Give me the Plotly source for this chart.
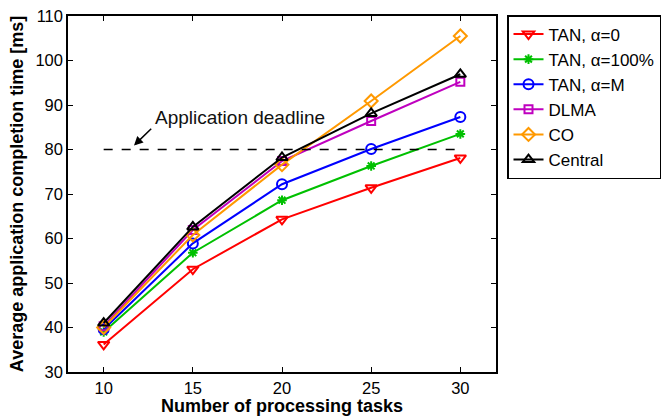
import plotly.graph_objects as go

tasks = [10, 15, 20, 25, 30]
tan_a0 = [36.2, 53.1, 64.3, 71.4, 78.1]
tan_a100 = [39.0, 56.8, 68.6, 76.3, 83.5]
tan_am = [39.6, 58.9, 72.2, 80.1, 87.3]
dlma = [40.3, 61.9, 77.4, 86.4, 95.2]
co = [40.0, 60.8, 76.6, 90.9, 105.5]
central = [41.0, 62.6, 78.2, 88.1, 96.9]
deadline = 80
y_ticks = [30, 40, 50, 60, 70, 80, 90, 100, 110]
x_ticks = [10, 15, 20, 25, 30]

series = [
    ("TAN, α=0", tan_a0, "#FF0000", "triangle-down-open", 10),
    ("TAN, α=100%", tan_a100, "#00C000", "asterisk-open", 8),
    ("TAN, α=M", tan_am, "#0000FF", "circle-open", 10),
    ("DLMA", dlma, "#BF00BF", "square-open", 8),
    ("CO", co, "#FF9900", "diamond-open", 10),
    ("Central", central, "#000000", "triangle-up-open", 10),
]

fig = go.Figure()
for name, vals, color, sym, sz in series:
    fig.add_trace(go.Scatter(
        x=tasks, y=vals, name=name, mode="lines+markers",
        line=dict(color=color, width=2),
        marker=dict(symbol=sym, size=sz, color=color, line=dict(color=color, width=2)),
    ))

fig.add_trace(go.Scatter(
    x=[tasks[0], tasks[-1]], y=[deadline, deadline], mode="lines",
    line=dict(color="black", width=1.5, dash="dash"), showlegend=False,
    hoverinfo="skip",
))

fig.add_annotation(
    x=11.7, y=80.9, ax=12.75, ay=85.0, xref="x", yref="y", axref="x", ayref="y",
    showarrow=True, arrowhead=2, arrowsize=1.2, arrowwidth=1.5, arrowcolor="black", text="",
)
fig.add_annotation(
    x=12.75, y=87.3, xref="x", yref="y", text="Application deadline", showarrow=False,
    xanchor="left", yanchor="middle", font=dict(size=19, color="#111111"),
)

axis_common = dict(
    showline=True, linecolor="black", linewidth=1.5, mirror="allticks",
    ticks="inside", ticklen=5, tickcolor="black", tickwidth=1,
    showgrid=False, zeroline=False, automargin=False,
    tickfont=dict(size=16.5, color="black"),
)

fig.update_xaxes(
    range=[8, 32], tickvals=x_ticks,
    title=dict(text="<b>Number of processing tasks</b>", font=dict(size=18, color="black"), standoff=0),
    **axis_common,
)
fig.update_yaxes(
    range=[30, 110], tickvals=y_ticks,
    title=dict(text="<b>Average application completion time [ms]</b>", font=dict(size=18, color="black"), standoff=7),
    **axis_common,
)

fig.update_layout(
    width=664, height=416,
    margin=dict(l=68, r=168, t=16, b=44, autoexpand=False),
    paper_bgcolor="white", plot_bgcolor="white",
    font=dict(family="Liberation Sans, Arial, sans-serif", color="black"),
    legend=dict(
        xref="container", yref="container",
        x=507 / 664, y=1 - 15 / 416, xanchor="left", yanchor="top",
        bordercolor="black", borderwidth=1.5, bgcolor="white",
        font=dict(size=17, color="black"), tracegroupgap=0,
        itemwidth=30,
    ),
)

fig.write_html(
    "out.html",
    config={"displayModeBar": False},
    post_script="document.body.style.margin='0';document.body.style.overflow='hidden';",
)
